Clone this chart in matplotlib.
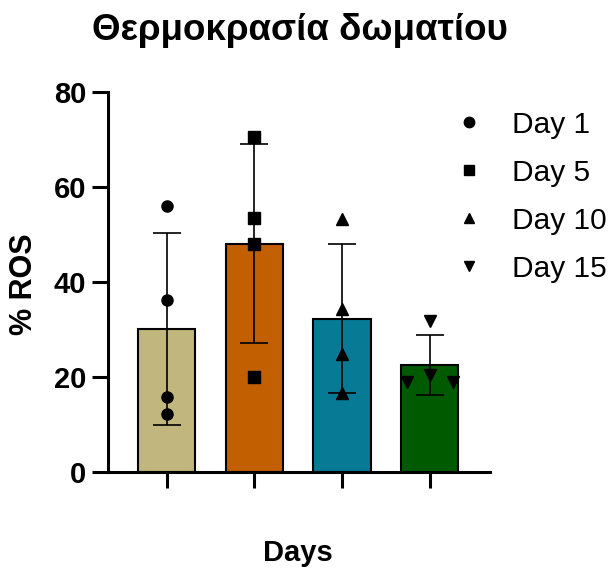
import matplotlib.pyplot as plt
from matplotlib.lines import Line2D
import numpy as np

plt.rcParams['font.family'] = ['Liberation Sans', 'DejaVu Sans']

# measured % ROS per day (4 replicates each)
days = ["Day 1", "Day 5", "Day 10", "Day 15"]
day1 = [55.9, 36.2, 15.8, 12.2]
day5 = [70.5, 53.5, 48.0, 20.1]
day10 = [53.3, 34.4, 24.8, 16.7]
day15 = [31.8, 20.4, 19.0, 18.9]

colors = ["#C1B67D", "#C25F00", "#077A95", "#005A00"]
markers = ["o", "s", "^", "v"]
# horizontal spread of the replicate points inside each bar
spread = [[0, 0, 0, 0], [0, 0, 0, 0], [0, 0, 0, 0], [0, 0, -0.26, 0.26]]

groups = [day1, day5, day10, day15]
means = [np.mean(g) for g in groups]
sds = [np.std(g, ddof=1) for g in groups]

fig = plt.figure(figsize=(6.12, 5.72), dpi=100)
ax = fig.add_axes([108/612, 100/572, 382/612, 380/572])

x = np.arange(len(days))
ax.bar(x, means, width=0.65, color=colors, edgecolor="black", linewidth=1.5, zorder=2)
ax.errorbar(x, means, yerr=sds, fmt="none", ecolor="black", elinewidth=1.2,
            capsize=10.3, capthick=1.2, zorder=3)

for i, g in enumerate(groups):
    ax.plot(x[i] + np.array(spread[i]), g, ls="none", marker=markers[i],
            color="black", markersize=8, zorder=4)

ax.set_xlim(-0.667, 3.687)
ax.set_ylim(0, 80)
ax.set_yticks([0, 20, 40, 60, 80])
ax.set_xticks(x)
ax.set_xticklabels([])
for s in ["top", "right"]:
    ax.spines[s].set_visible(False)
for s in ["left", "bottom"]:
    ax.spines[s].set_linewidth(2.2)
ax.tick_params(width=2.2, length=11.5, labelsize=21, pad=4)
for lab in ax.get_yticklabels():
    lab.set_fontweight("bold")

handles = [Line2D([], [], ls="none", marker=m, color="black", markersize=7.5) for m in markers]
ax.legend(handles, days, loc="upper left", bbox_to_anchor=(0.914, 0.951),
          frameon=False, fontsize=21.5, handlelength=0.8, handletextpad=1.04,
          labelspacing=0.67, borderaxespad=0, borderpad=0)

fig.text(0.49, 0.947, "Θερμοκρασία δωματίου", ha="center", va="center",
         fontsize=26.5, fontweight="bold")
fig.text(298/612, 1 - 553/572, "Days", ha="center", va="center",
         fontsize=21, fontweight="bold")
fig.text(24/612, 1 - 284/572, "% ROS", ha="center", va="center",
         rotation=90, fontsize=22, fontweight="bold")

fig.savefig("out.png", dpi=100)
